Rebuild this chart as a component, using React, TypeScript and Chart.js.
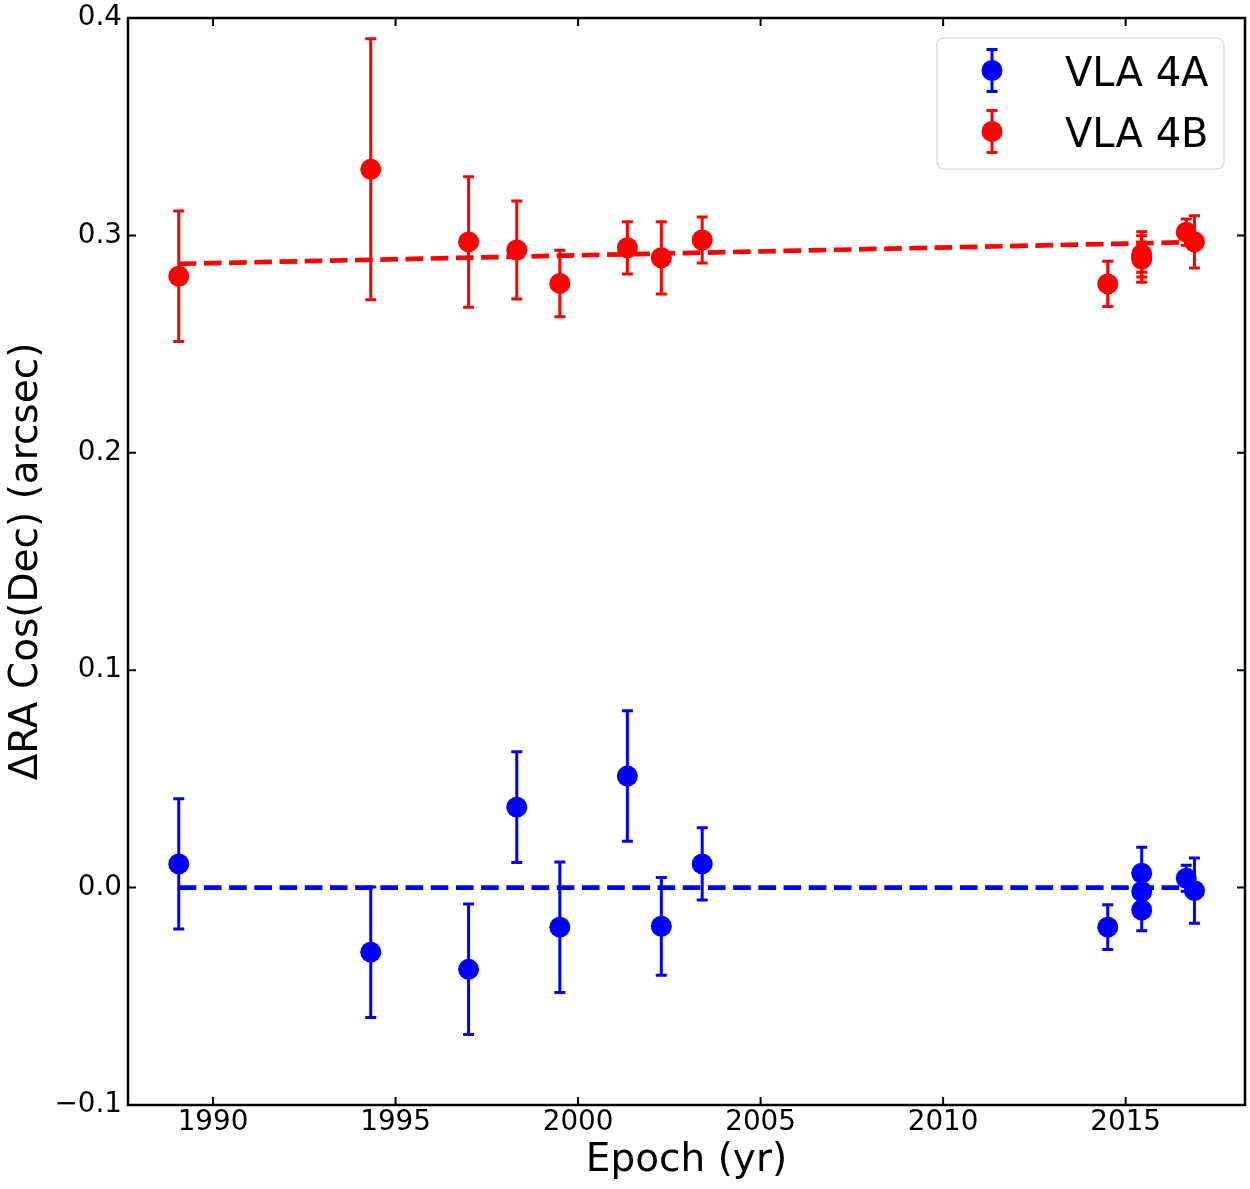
import { useEffect, useRef } from "react"
import { Chart, registerables } from "chart.js"

Chart.register(...registerables)

// Observation epochs (shared by both sources)
const epochs = [
  1989.06, 1994.32, 1997.0, 1998.32, 1999.5, 2001.35, 2002.28, 2003.4,
  2014.51, 2015.44, 2015.44, 2015.44, 2016.66, 2016.885,
]

// VLA 4A offsets and errors (arcsec)
const ra4A = [
  0.0109, -0.0297, -0.0376, 0.037, -0.0182, 0.0513, -0.0178, 0.0109,
  -0.0182, 0.0066, -0.0018, -0.0103, 0.0043, -0.0014,
]
const err4A = [
  0.03, 0.03, 0.03, 0.0255, 0.03, 0.03, 0.0225, 0.0166,
  0.0103, 0.012, 0.01, 0.0095, 0.006, 0.015,
]

// VLA 4B offsets and errors (arcsec)
const ra4B = [
  0.2812, 0.3304, 0.297, 0.2933, 0.2779, 0.2943, 0.2897, 0.2979,
  0.2777, 0.2913, 0.29, 0.2891, 0.3015, 0.297,
]
const err4B = [
  0.03, 0.06, 0.03, 0.0225, 0.0153, 0.012, 0.0166, 0.0106,
  0.0104, 0.0104, 0.007, 0.0107, 0.006, 0.012,
]

// Linear fits (end points)
const fitEpochs = [1989.06, 2016.885]
const fit4A = [0.0, 0.0]
const fit4B = [0.2869, 0.2969]

const xTicks = [1990, 1995, 2000, 2005, 2010, 2015]
const yTicks = [-0.1, 0.0, 0.1, 0.2, 0.3, 0.4]

const BLUE = "#0000ff"
const RED = "#ff0000"
const FONT = "'DejaVu Sans', sans-serif"

const toPoints = (xs: number[], ys: number[]) => xs.map((x, i) => ({ x, y: ys[i] }))

function drawErrorBar(ctx: CanvasRenderingContext2D, px: number, top: number, bottom: number, color: string) {
  const cap = 5.5
  ctx.strokeStyle = color
  ctx.lineWidth = 3
  ctx.beginPath()
  ctx.moveTo(px, top)
  ctx.lineTo(px, bottom)
  ctx.moveTo(px - cap, top)
  ctx.lineTo(px + cap, top)
  ctx.moveTo(px - cap, bottom)
  ctx.lineTo(px + cap, bottom)
  ctx.stroke()
}

// vertical error bars drawn under the markers
const errorBars = {
  id: "errorBars",
  beforeDatasetsDraw(chart: any) {
    const { ctx, scales } = chart
    ctx.save()
    chart.data.datasets.forEach((ds: any) => {
      if (!ds.errors) return
      ds.data.forEach((p: any, j: number) => {
        const e = ds.errors[j]
        drawErrorBar(
          ctx,
          scales.x.getPixelForValue(p.x),
          scales.y.getPixelForValue(p.y + e),
          scales.y.getPixelForValue(p.y - e),
          ds.backgroundColor
        )
      })
    })
    ctx.restore()
  },
}

// box frame with inward ticks on all four sides
const frame = {
  id: "frame",
  afterDraw(chart: any) {
    const { ctx, chartArea: a, scales } = chart
    const len = 8
    ctx.save()
    ctx.strokeStyle = "#000"
    ctx.lineWidth = 2
    ctx.beginPath()
    scales.x.ticks.forEach((t: any) => {
      const px = scales.x.getPixelForValue(t.value)
      ctx.moveTo(px, a.bottom)
      ctx.lineTo(px, a.bottom - len)
      ctx.moveTo(px, a.top)
      ctx.lineTo(px, a.top + len)
    })
    scales.y.ticks.forEach((t: any) => {
      const py = scales.y.getPixelForValue(t.value)
      ctx.moveTo(a.left, py)
      ctx.lineTo(a.left + len, py)
      ctx.moveTo(a.right, py)
      ctx.lineTo(a.right - len, py)
    })
    ctx.stroke()
    ctx.lineWidth = 2.5
    ctx.strokeRect(a.left, a.top, a.right - a.left, a.bottom - a.top)
    ctx.restore()
  },
}

// matplotlib-like legend with errorbar glyphs
const legendBox = {
  id: "legendBox",
  afterDraw(chart: any) {
    const { ctx, chartArea: a } = chart
    const w = 287
    const h = 131
    const left = a.right - 21 - w
    const top = a.top + 20
    ctx.save()
    ctx.fillStyle = "#fff"
    ctx.strokeStyle = "#d5d5d5"
    ctx.lineWidth = 1.2
    ctx.beginPath()
    ctx.roundRect(left, top, w, h, 7)
    ctx.fill()
    ctx.stroke()
    const items = chart.data.datasets.filter((ds: any) => ds.errors)
    items.forEach((ds: any, i: number) => {
      const cy = top + 32.5 + i * 61
      const cx = left + 55
      drawErrorBar(ctx, cx, cy - 21, cy + 21, ds.backgroundColor)
      ctx.fillStyle = ds.backgroundColor
      ctx.beginPath()
      ctx.arc(cx, cy, 10.5, 0, Math.PI * 2)
      ctx.fill()
      ctx.fillStyle = "#000"
      ctx.font = `40px ${FONT}`
      ctx.textBaseline = "alphabetic"
      ctx.textAlign = "left"
      ctx.fillText(ds.label, left + 128, cy + 15.5)
    })
    ctx.restore()
  },
}

export default function App() {
  const chartRef = useRef<HTMLCanvasElement>(null)
  const chartInstance = useRef<Chart | null>(null)

  useEffect(() => {
    if (!chartRef.current) return
    if (chartInstance.current) chartInstance.current.destroy()
    const ctx = chartRef.current.getContext("2d")
    if (!ctx) return

    Chart.defaults.font.family = FONT

    chartInstance.current = new Chart(ctx, {
      type: "scatter",
      data: {
        datasets: [
          {
            label: "VLA 4A",
            data: toPoints(epochs, ra4A),
            errors: err4A,
            backgroundColor: BLUE,
            borderWidth: 0,
            pointRadius: 10.5,
            order: 0,
          } as any,
          {
            label: "VLA 4B",
            data: toPoints(epochs, ra4B),
            errors: err4B,
            backgroundColor: RED,
            borderWidth: 0,
            pointRadius: 10.5,
            order: 0,
          } as any,
          {
            label: "fit 4A",
            data: toPoints(fitEpochs, fit4A),
            showLine: true,
            borderColor: BLUE,
            borderWidth: 4.7,
            borderDash: [17.6, 7.6],
            pointRadius: 0,
            order: 1,
          },
          {
            label: "fit 4B",
            data: toPoints(fitEpochs, fit4B),
            showLine: true,
            borderColor: RED,
            borderWidth: 4.7,
            borderDash: [17.6, 7.6],
            pointRadius: 0,
            order: 1,
          },
        ],
      },
      options: {
        animation: false,
        responsive: false,
        layout: { autoPadding: false, padding: { top: 18, right: 5, left: 0, bottom: 0 } },
        plugins: {
          legend: { display: false },
          tooltip: { enabled: false },
        },
        scales: {
          x: {
            type: "linear",
            min: 1987.67,
            max: 2018.27,
            afterBuildTicks: (s: any) => {
              s.ticks = xTicks.map((v) => ({ value: v }))
            },
            afterFit: (s: any) => {
              s.height = 84
              s.paddingLeft = 0
              s.paddingRight = 0
            },
            grid: { display: false, drawTicks: false },
            border: { display: false },
            ticks: {
              color: "#000",
              font: { size: 27.8 },
              padding: 1,
              maxRotation: 0,
              autoSkip: false,
              callback: (v: any) => String(v),
            },
            title: {
              display: true,
              text: "Epoch (yr)",
              color: "#000",
              font: { size: 39 },
              padding: { top: 0, bottom: 5 },
            },
          },
          y: {
            type: "linear",
            min: -0.1,
            max: 0.4,
            afterBuildTicks: (s: any) => {
              s.ticks = yTicks.map((v) => ({ value: v }))
            },
            afterFit: (s: any) => {
              s.width = 128
              s.paddingTop = 0
              s.paddingBottom = 0
            },
            grid: { display: false, drawTicks: false },
            border: { display: false },
            ticks: {
              color: "#000",
              font: { size: 27.8 },
              padding: 6,
              autoSkip: false,
              callback: (v: any) => (v < -1e-9 ? "\u2212" : "") + Math.abs(v).toFixed(1),
            },
            title: {
              display: true,
              text: "\u0394RA Cos(Dec) (arcsec)",
              color: "#000",
              font: { size: 39 },
              padding: { top: 3, bottom: 0 },
            },
          },
        },
      },
      plugins: [errorBars, frame, legendBox],
    } as any)

    return () => {
      if (chartInstance.current) {
        chartInstance.current.destroy()
        chartInstance.current = null
      }
    }
  }, [])

  return (
    <div style={{ position: "fixed", left: 0, top: 0, width: 1250, height: 1189, background: "#fff" }}>
      <canvas ref={chartRef} width={1250} height={1189} style={{ display: "block" }} />
    </div>
  )
}
